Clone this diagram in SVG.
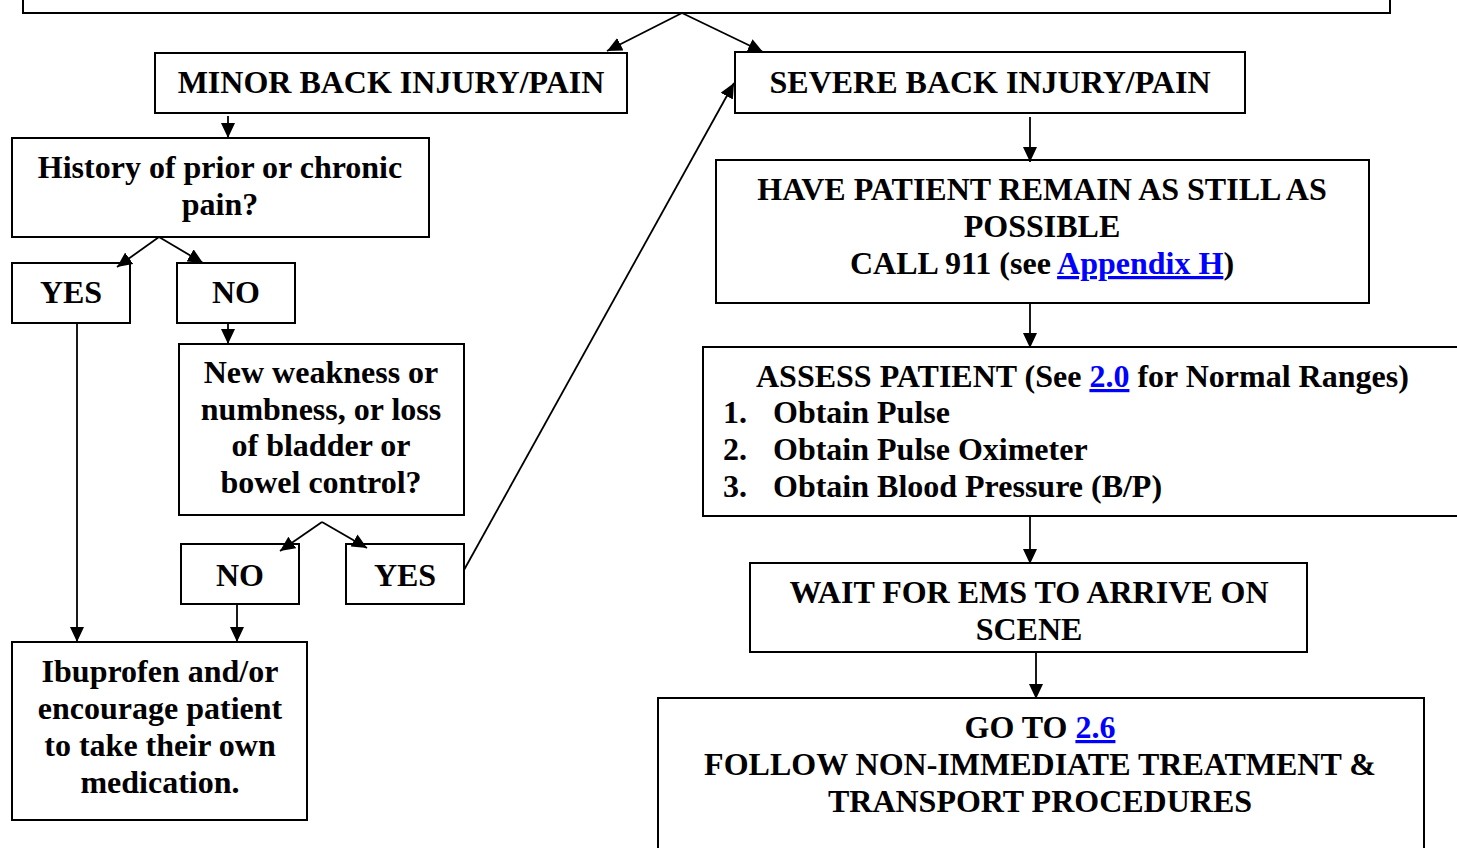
<svg xmlns="http://www.w3.org/2000/svg" width="1457" height="848" viewBox="0 0 1457 848">
<style>
.box{fill:#fff;stroke:#000;stroke-width:2}
.t{font-family:"Liberation Serif","Times New Roman",serif;font-weight:bold;font-size:32px;fill:#000}
.c{text-anchor:middle}
.lnk{fill:#0000FF;text-decoration:underline}
.ln{fill:none;stroke:#000;stroke-width:1.8}
</style>
<defs>
<marker id="ah" markerUnits="userSpaceOnUse" markerWidth="15" markerHeight="14" refX="15" refY="7" orient="auto" viewBox="0 0 15 14">
<path d="M0,0 L15,7 L0,14 z" fill="#000"/>
</marker>
</defs>
<rect width="1457" height="848" fill="#fff"/>
<g id="top"><rect class="box" x="23" y="-10" width="1367" height="23"/></g>
<g id="minor"><rect class="box" x="155" y="53" width="472" height="60"/>
<text class="t c" x="391" y="93">MINOR BACK INJURY/PAIN</text></g>
<g id="severe"><rect class="box" x="735" y="52" width="510" height="61"/>
<text class="t c" x="990" y="93">SEVERE BACK INJURY/PAIN</text></g>
<g id="history"><rect class="box" x="12" y="138" width="417" height="99"/>
<text class="t c" x="220" y="178">History of prior or chronic</text>
<text class="t c" x="220" y="215">pain?</text></g>
<g id="yes1"><rect class="box" x="12" y="263" width="118" height="60"/>
<text class="t c" x="71" y="303">YES</text></g>
<g id="no1"><rect class="box" x="177" y="263" width="118" height="60"/>
<text class="t c" x="236" y="303">NO</text></g>
<g id="newweak"><rect class="box" x="179" y="344" width="285" height="171"/>
<text class="t c" x="321" y="383">New weakness or</text>
<text class="t c" x="321" y="420">numbness, or loss</text>
<text class="t c" x="321" y="456">of bladder or</text>
<text class="t c" x="321" y="493">bowel control?</text></g>
<g id="no2"><rect class="box" x="181" y="544" width="118" height="60"/>
<text class="t c" x="240" y="586">NO</text></g>
<g id="yes2"><rect class="box" x="346" y="544" width="118" height="60"/>
<text class="t c" x="405" y="586">YES</text></g>
<g id="ibuprofen"><rect class="box" x="12" y="642" width="295" height="178"/>
<text class="t c" x="160" y="682">Ibuprofen and/or</text>
<text class="t c" x="160" y="719">encourage patient</text>
<text class="t c" x="160" y="756">to take their own</text>
<text class="t c" x="160" y="793">medication.</text></g>
<g id="still"><rect class="box" x="716" y="160" width="653" height="143"/>
<text class="t c" x="1042" y="200">HAVE PATIENT REMAIN AS STILL AS</text>
<text class="t c" x="1042" y="237">POSSIBLE</text>
<text class="t c" x="1042" y="274">CALL 911 (see <tspan class="lnk">Appendix H</tspan>)</text></g>
<g id="assess"><rect class="box" x="703" y="347" width="770" height="169"/>
<text class="t" x="756" y="387">ASSESS PATIENT (See <tspan class="lnk">2.0</tspan> for Normal Ranges)</text>
<text class="t" x="723" y="423">1.</text><text class="t" x="773" y="423">Obtain Pulse</text>
<text class="t" x="723" y="460">2.</text><text class="t" x="773" y="460">Obtain Pulse Oximeter</text>
<text class="t" x="723" y="497">3.</text><text class="t" x="773" y="497">Obtain Blood Pressure (B/P)</text></g>
<g id="wait"><rect class="box" x="750" y="563" width="557" height="89"/>
<text class="t c" x="1029" y="603">WAIT FOR EMS TO ARRIVE ON</text>
<text class="t c" x="1029" y="640">SCENE</text></g>
<g id="goto"><rect class="box" x="658" y="698" width="766" height="170"/>
<text class="t c" x="1040" y="738">GO TO <tspan class="lnk">2.6</tspan></text>
<text class="t c" x="1040" y="775">FOLLOW NON-IMMEDIATE TREATMENT &amp;</text>
<text class="t c" x="1040" y="812">TRANSPORT PROCEDURES</text></g>
<g id="connectors">
<path class="ln" marker-end="url(#ah)" d="M682,13 L607,51"/>
<path class="ln" marker-end="url(#ah)" d="M682,13 L763,52"/>
<path class="ln" marker-end="url(#ah)" d="M228,116 L228,138"/>
<path class="ln" marker-end="url(#ah)" d="M159,237 L117,267"/>
<path class="ln" marker-end="url(#ah)" d="M159,237 L203,263"/>
<path class="ln" marker-end="url(#ah)" d="M77,323 L77,642"/>
<path class="ln" marker-end="url(#ah)" d="M228,323 L228,344"/>
<path class="ln" marker-end="url(#ah)" d="M322,522 L280,551"/>
<path class="ln" marker-end="url(#ah)" d="M322,522 L367,548"/>
<path class="ln" marker-end="url(#ah)" d="M237,604 L237,642"/>
<path class="ln" marker-end="url(#ah)" d="M464,570 L734,83"/>
<path class="ln" marker-end="url(#ah)" d="M1030,117 L1030,162"/>
<path class="ln" marker-end="url(#ah)" d="M1030,303 L1030,348"/>
<path class="ln" marker-end="url(#ah)" d="M1030,516 L1030,564"/>
<path class="ln" marker-end="url(#ah)" d="M1036,652 L1036,699"/>
</g>
</svg>
